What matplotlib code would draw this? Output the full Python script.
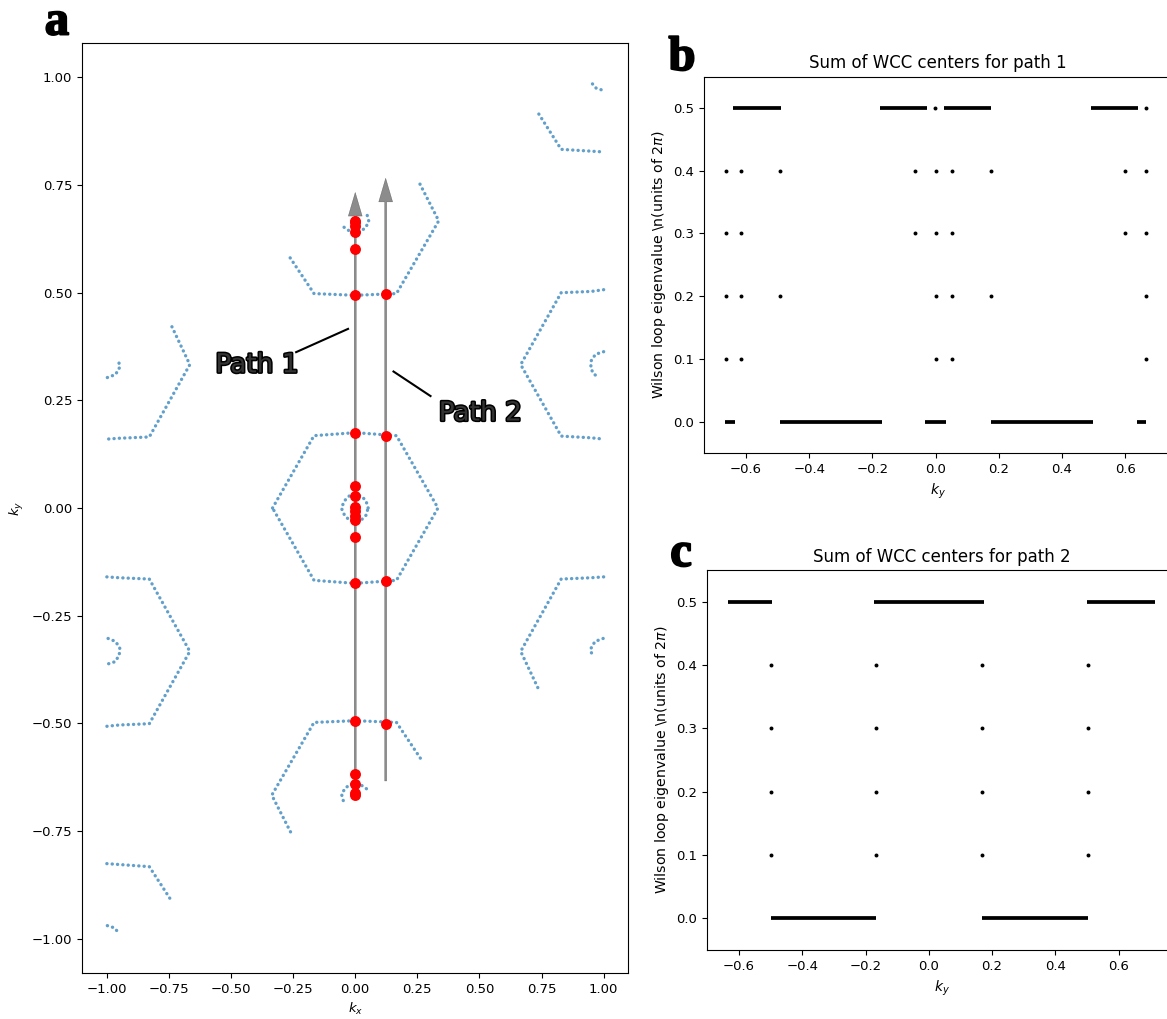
import matplotlib
matplotlib.use("Agg")
import matplotlib.pyplot as plt
import matplotlib.patheffects as pe

W, H = 1167, 1019

# ---- panel a: Fermi surface pieces, (kx, ky) vertices ----
hex_center = [(-0.333, 0.0), (-0.166, 0.168), (0.0, 0.175), (0.166, 0.168), (0.333, 0.0),
              (0.166, -0.168), (0.0, -0.175), (-0.166, -0.168), (-0.333, 0.0)]
ring_center = [(0.052, 0.0), (0.043, 0.017), (0.024, 0.028), (0.0, 0.031), (-0.024, 0.028),
               (-0.043, 0.017), (-0.056, 0.0), (-0.043, -0.017), (-0.024, -0.028),
               (0.0, -0.031), (0.024, -0.028), (0.043, -0.017), (0.052, 0.0)]
upper_mid = [(-0.262, 0.581), (-0.166, 0.498), (0.0, 0.494), (0.166, 0.498),
             (0.336, 0.667), (0.259, 0.754)]
upper_arc = [(-0.045, 0.652), (-0.02, 0.642), (0.015, 0.641), (0.04, 0.65),
             (0.055, 0.665), (0.048, 0.68)]
lower_mid = [(0.262, -0.581), (0.166, -0.498), (0.0, -0.494), (-0.166, -0.498),
             (-0.336, -0.667), (-0.259, -0.754)]
lower_arc = [(0.045, -0.652), (0.02, -0.642), (-0.015, -0.641), (-0.04, -0.65),
             (-0.055, -0.665), (-0.048, -0.68)]
right_up = [(1.0, 0.507), (0.95, 0.503), (0.829, 0.5), (0.666, 0.333), (0.829, 0.167),
            (0.95, 0.163), (1.0, 0.16)]
right_up_arc = [(1.0, 0.363), (0.967, 0.357), (0.95, 0.342), (0.948, 0.325),
                (0.96, 0.311), (0.978, 0.305)]
left_up = [(-0.738, 0.421), (-0.666, 0.333), (-0.829, 0.165), (-0.95, 0.162), (-1.0, 0.16)]
left_up_arc = [(-0.998, 0.303), (-0.965, 0.31), (-0.947, 0.328), (-0.955, 0.345)]
left_low = [(-1.0, -0.16), (-0.95, -0.162), (-0.829, -0.165), (-0.666, -0.333),
            (-0.829, -0.501), (-0.95, -0.504), (-1.0, -0.507)]
left_low_arc = [(-0.995, -0.303), (-0.965, -0.31), (-0.948, -0.325), (-0.95, -0.342),
                (-0.967, -0.357), (-1.0, -0.363)]
right_low = [(1.0, -0.16), (0.95, -0.162), (0.829, -0.165), (0.666, -0.333), (0.738, -0.421)]
right_low_arc = [(0.998, -0.303), (0.965, -0.31), (0.947, -0.328), (0.955, -0.345)]
top_right = [(0.739, 0.915), (0.829, 0.833), (1.0, 0.827)]
top_right_bit = [(0.955, 0.985), (0.97, 0.975), (0.998, 0.97)]
bottom_left = [(-1.0, -0.826), (-0.829, -0.833), (-0.738, -0.914)]
bottom_left_bit = [(-0.998, -0.97), (-0.97, -0.975), (-0.955, -0.985)]

contours = [hex_center, ring_center, upper_mid, upper_arc, lower_mid, lower_arc,
            right_up, right_up_arc, left_up, left_up_arc, left_low, left_low_arc,
            right_low, right_low_arc, top_right, top_right_bit, bottom_left, bottom_left_bit]

# paths and crossing points
path1_kx = 0.0
path1_ky = (-0.667, 0.667)
path1_hits = [-0.667, -0.662, -0.641, -0.617, -0.495, -0.175, -0.067, -0.028, -0.018,
              -0.008, 0.003, 0.027, 0.052, 0.175, 0.494, 0.602, 0.641, 0.656, 0.664, 0.667]
path2_kx = 0.1225
path2_ky = (-0.634, 0.714)
path2_hits = [-0.501, -0.170, 0.168, 0.498]

# ---- panel b: path 1 Wilson loop ----
b_half = [(-0.641, -0.490), (-0.176, -0.026), (0.027, 0.176), (0.491, 0.642)]
b_zero = [(-0.667, -0.634), (-0.494, -0.171), (-0.032, 0.032), (0.174, 0.498), (0.637, 0.667)]
b_dots = {
    0.5: [-0.002, 0.667],
    0.4: [-0.665, -0.615, -0.492, -0.066, 0.0, 0.053, 0.175, 0.601, 0.667],
    0.3: [-0.665, -0.615, -0.066, 0.0, 0.053, 0.601, 0.667],
    0.2: [-0.665, -0.615, -0.492, 0.0, 0.053, 0.175, 0.667],
    0.1: [-0.665, -0.615, 0.0, 0.053, 0.667],
}

# ---- panel c: path 2 Wilson loop ----
c_half = [(-0.634, -0.497), (-0.172, 0.174), (0.5, 0.714)]
c_zero = [(-0.5, -0.167), (0.169, 0.504)]
c_dots = {
    0.4: [-0.5, -0.167, 0.169, 0.503],
    0.3: [-0.5, -0.167, 0.169, 0.503],
    0.2: [-0.5, -0.167, 0.169, 0.503],
    0.1: [-0.5, -0.167, 0.169, 0.503],
}

a_ticks = [-1.0, -0.75, -0.5, -0.25, 0.0, 0.25, 0.5, 0.75, 1.0]
wl_yticks = [0.0, 0.1, 0.2, 0.3, 0.4, 0.5]
wl_xticks = [-0.6, -0.4, -0.2, 0.0, 0.2, 0.4, 0.6]


def px_axes(fig, left, top, right, bottom):
    return fig.add_axes([left / W, 1 - bottom / H, (right - left) / W, (bottom - top) / H])


plt.rcParams['font.size'] = 9.5
fig = plt.figure(figsize=(W / 100, H / 100), dpi=100)

# panel a
ax = px_axes(fig, 82, 43, 628.5, 973)
for c in contours:
    xs = [p[0] for p in c]
    ys = [p[1] for p in c]
    ax.plot(xs, ys, color='#1f77b4', alpha=0.7, lw=2.4,
            linestyle=(0, (0.05, 1.55)), dash_capstyle='round')

for kx, (y0, y1) in [(path1_kx, path1_ky), (path2_kx, path2_ky)]:
    ax.arrow(kx, y0, 0, 1.4, length_includes_head=True, width=0.008,
             head_width=0.056, head_length=0.055, color='k', alpha=0.45, lw=0.3, zorder=3)

ax.scatter([path1_kx] * len(path1_hits), path1_hits, s=62, color='red', zorder=4, lw=0)
ax.scatter([path2_kx] * len(path2_hits), path2_hits, s=62, color='red', zorder=4, lw=0)

stroke = [pe.withStroke(linewidth=2.2, foreground='black')]
ax.text(-0.563, 0.315, 'Path 1', fontsize=19, color='#333333', ha='left', va='baseline',
        path_effects=stroke)
ax.text(0.336, 0.203, 'Path 2', fontsize=19, color='#333333', ha='left', va='baseline',
        path_effects=stroke)
ax.plot([-0.238, -0.029], [0.362, 0.416], color='k', lw=1.5)
ax.plot([0.154, 0.303], [0.317, 0.260], color='k', lw=1.5)

ax.set_xlim(-1.1, 1.1)
ax.set_ylim(-1.08, 1.08)
ax.set_xticks(a_ticks)
ax.set_yticks(a_ticks)
ax.set_xlabel('$k_x$')
ax.set_ylabel('$k_y$')


def wilson_panel(ax, half, zero, dots, title):
    for x0, x1 in half:
        ax.plot([x0, x1], [0.5, 0.5], color='k', lw=2.7, solid_capstyle='butt')
    for x0, x1 in zero:
        ax.plot([x0, x1], [0.0, 0.0], color='k', lw=2.7, solid_capstyle='butt')
    for level, xs in dots.items():
        ax.scatter(xs, [level] * len(xs), s=8, color='k', lw=0)
    ax.set_ylim(-0.05, 0.55)
    ax.set_xticks(wl_xticks)
    ax.set_yticks(wl_yticks)
    ax.set_xlabel('$k_y$', fontsize=10)
    ax.set_ylabel(r'Wilson loop eigenvalue \n(units of $2\pi$)', fontsize=10.2)
    ax.set_title(title, fontsize=12)


axb = px_axes(fig, 704, 76.5, 1171, 453)
wilson_panel(axb, b_half, b_zero, b_dots, 'Sum of WCC centers for path 1')
axb.set_xlim(-0.7333, 0.7333 + 0.012)

axc = px_axes(fig, 707, 570, 1176, 950)
wilson_panel(axc, c_half, c_zero, c_dots, 'Sum of WCC centers for path 2')
axc.set_xlim(-0.7014, 0.7814)

lab = dict(fontsize=35, fontweight='bold', family='Liberation Serif', ha='center',
           va='baseline', path_effects=[pe.withStroke(linewidth=1.4, foreground='black')])
fig.text(57 / W, 1 - 34.5 / H, 'a', **lab)
fig.text(682 / W, 1 - 70 / H, 'b', **lab)
fig.text(681 / W, 1 - 566 / H, 'c', **lab)

fig.savefig('out.png', dpi=100)
